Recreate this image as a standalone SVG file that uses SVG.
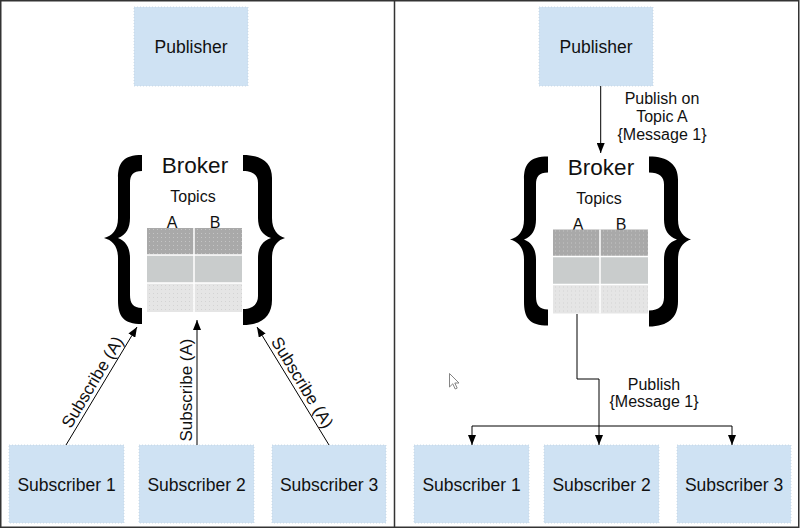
<svg xmlns="http://www.w3.org/2000/svg" width="800" height="530" viewBox="0 0 800 530">
<defs>
<style>
.box{fill:#cfe2f3;stroke:#c3d3df;stroke-width:0.8;stroke-dasharray:1 2}
.lbl{font-family:"Liberation Sans",Arial,sans-serif;font-size:17.5px;fill:#111;text-anchor:middle}
.edge{font-family:"Liberation Sans",Arial,sans-serif;font-size:16px;fill:#111;text-anchor:middle}
.sub{font-size:17px}
.brk{font-family:"Liberation Sans",Arial,sans-serif;font-size:22.5px;fill:#111;text-anchor:middle}
.top{font-family:"Liberation Sans",Arial,sans-serif;font-size:16px;fill:#111;text-anchor:middle}
.brace{fill:#000;stroke:none}
.ln{fill:none;stroke:#000;stroke-width:1}
.sep{stroke:#fff;stroke-width:1.5}
</style>
<marker id="ah" markerUnits="userSpaceOnUse" markerWidth="10" markerHeight="8" refX="10" refY="4" orient="auto">
<path d="M0,0 L10,4 L0,8 Z" fill="#000"/>
</marker>
<pattern id="dotsD" width="4" height="4" patternUnits="userSpaceOnUse">
<rect width="4" height="4" fill="#a9a9a9"/>
<rect x="1" y="1" width="0.8" height="0.8" fill="#d4d4d4"/>
</pattern>
<pattern id="dotsL" width="4" height="4" patternUnits="userSpaceOnUse">
<rect width="4" height="4" fill="#e5e5e5"/>
<rect x="1" y="1" width="0.8" height="0.8" fill="#c9c9c9"/>
</pattern>
<g id="brokerShape">
<path class="brace" d="M142,155 C123,155 118,163 118,178 L118,218 C118,230 112,236 104,238 C112,240 118,246 118,258 L118,300 C118,316 123,324 142,324 L142,308 C133,308 130,303 130,295 L130,258 C130,248 126,241 118,238 C126,235 130,228 130,218 L130,183 C130,175 133,171 142,171 Z"/>
<path class="brace" d="M243,155 C262,155 272,163 272,178 L272,218 C272,230 278,236 285,238 C278,240 272,246 272,258 L272,300 C272,316 262,325 243,325 L243,309 C253,309 258,304 258,296 L258,258 C258,248 262,241 271,238 C262,235 258,228 258,218 L258,183 C258,175 253,171 243,171 Z"/>
<text class="brk" x="195" y="173">Broker</text>
<text class="top" x="193" y="202">Topics</text>
<text class="top" x="172" y="228">A</text>
<text class="top" x="215" y="228">B</text>
<rect x="147" y="228" width="95" height="27" fill="url(#dotsD)"/>
<rect x="147" y="255" width="95" height="28" fill="#c9cccc"/>
<rect x="147" y="283" width="95" height="29" fill="url(#dotsL)"/>
<line class="sep" x1="147" y1="255" x2="242" y2="255"/>
<line class="sep" x1="147" y1="283" x2="242" y2="283"/>
<line class="sep" x1="194" y1="228" x2="194" y2="312"/>
</g>
</defs>
<rect x="0" y="0" width="800" height="530" fill="#fff"/>
<g id="frame" fill="none" stroke="#333" stroke-width="1.5">
<rect x="0.75" y="0.75" width="798" height="526.5"/>
<line x1="394.5" y1="0" x2="394.5" y2="528"/>
</g>

<g id="pub-left"><rect class="box" x="134" y="7" width="114" height="79"/><text class="lbl" x="191" y="53">Publisher</text></g>
<g id="broker-left"><use href="#brokerShape"/></g>
<g id="sub1-left"><rect class="box" x="9" y="445" width="115" height="78"/><text class="lbl" x="66.5" y="491">Subscriber 1</text></g>
<g id="sub2-left"><rect class="box" x="139" y="445" width="115" height="78"/><text class="lbl" x="196.5" y="491">Subscriber 2</text></g>
<g id="sub3-left"><rect class="box" x="272" y="445" width="114" height="78"/><text class="lbl" x="329" y="491">Subscriber 3</text></g>

<g id="pub-right"><rect class="box" x="539" y="7" width="114" height="79"/><text class="lbl" x="596" y="53">Publisher</text></g>
<g id="broker-right"><use href="#brokerShape" transform="translate(406,1.5)"/></g>
<g id="sub1-right"><rect class="box" x="414" y="445" width="115" height="78"/><text class="lbl" x="471.5" y="491">Subscriber 1</text></g>
<g id="sub2-right"><rect class="box" x="544" y="445" width="115" height="78"/><text class="lbl" x="601.5" y="491">Subscriber 2</text></g>
<g id="sub3-right"><rect class="box" x="677" y="445" width="114" height="78"/><text class="lbl" x="734" y="491">Subscriber 3</text></g>

<g id="connectors">
<line class="ln" x1="66" y1="445" x2="137" y2="327" marker-end="url(#ah)"/>
<line class="ln" x1="197" y1="445" x2="197" y2="320" marker-end="url(#ah)"/>
<line class="ln" x1="329" y1="445" x2="257" y2="327" marker-end="url(#ah)"/>
<text class="edge sub" transform="translate(100.8,387.2) rotate(-59)" x="0" y="-4">Subscribe (A)</text>
<text class="edge sub" transform="translate(197,390) rotate(-90)" x="0" y="-5">Subscribe (A)</text>
<text class="edge sub" transform="translate(294,387.6) rotate(58.6)" x="0" y="-4">Subscribe (A)</text>

<line class="ln" x1="600.7" y1="86" x2="600.7" y2="153" marker-end="url(#ah)"/>
<text class="edge" x="662" y="104">Publish on</text>
<text class="edge" x="662" y="122">Topic A</text>
<text class="edge" x="662" y="140">{Message 1}</text>

<polyline class="ln" points="577,314 577,379 599,379 599,445" marker-end="url(#ah)"/>
<polyline class="ln" points="472,426 732,426 732,445" marker-end="url(#ah)"/>
<line class="ln" x1="472" y1="426" x2="472" y2="445" marker-end="url(#ah)"/>
<text class="edge" x="654" y="390">Publish</text>
<text class="edge" x="654" y="407">{Message 1}</text>
</g>
<g id="cursor" transform="translate(449,373)">
<path d="M0.5,0.5 L0.5,14 L3.8,10.8 L6.2,16 L8.2,15.1 L5.8,10 L10,10 Z" fill="#fff" stroke="#777" stroke-width="0.9"/>
</g>
</svg>
